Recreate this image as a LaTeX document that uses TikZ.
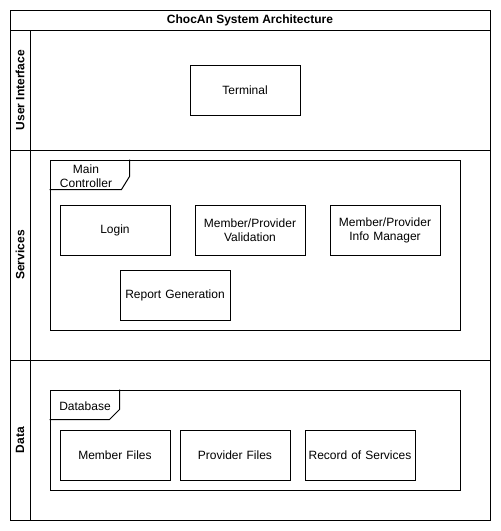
\documentclass[tikz,border=0pt]{standalone}
\usepackage{fontspec}
\setmainfont{Liberation Sans}
\usetikzlibrary{positioning}

\begin{document}
\begin{tikzpicture}[x=1pt, y=-1pt, line width=1pt, node distance=25pt,
  every node/.style={font=\fontsize{12}{14}\selectfont, align=center},
  comp/.style={draw, minimum width=110pt, minimum height=50pt, text width=106pt, inner sep=2pt, outer sep=0pt},
  frame/.style={draw, minimum width=410pt, inner sep=0pt},
  lanelabel/.style={rotate=90, font=\fontsize{12}{14}\selectfont\bfseries}]
  \useasboundingbox (0,0) rectangle (501,531);
  % swimlanes
  \draw (10,10) rectangle (490,520);
  \node[font=\fontsize{12}{14}\selectfont\bfseries] (title) at (250,20) {ChocAn System Architecture};
  \draw (10,30) -- (490,30);
  \draw (30,30) -- (30,520);
  \draw (10,150) -- (490,150);
  \draw (10,360) -- (490,360);
  \node[lanelabel] (ui) at (20,90) {User Interface};
  \node[lanelabel] (svc) at (20,255) {Services};
  \node[lanelabel] (data) at (20,440) {Data};
  % user interface
  \node[comp] (term) at (245,90) {Terminal};
  % services
  \node[frame, minimum height=170pt] (ctrl) at (255,245) {};
  \draw (ctrl.north west) ++(0,30) -- ++(72,0) -- ++(8,-13) -- ++(0,-17);
  \node (ctrltab) at (86,176) {Main\\Controller};
  \node[comp] (login) at (115,230) {Login};
  \node[comp, right=of login] (valid) {Member/Provider\\Validation};
  \node[comp, right=of valid] (info) {Member/Provider\\Info Manager};
  \node[comp] (report) at (175,295) {Report Generation};
  % data
  \node[frame, minimum height=100pt] (db) at (255,440) {};
  \draw (db.north west) ++(0,30) -- ++(60,0) -- ++(10,-10) -- ++(0,-20);
  \node (dbtab) at (85,406) {Database};
  \node[comp] (mfiles) at (115,455) {Member Files};
  \node[comp, right=10pt of mfiles] (pfiles) {Provider Files};
  \node[comp, right=15pt of pfiles] (records) {Record of Services};
\end{tikzpicture}
\end{document}
